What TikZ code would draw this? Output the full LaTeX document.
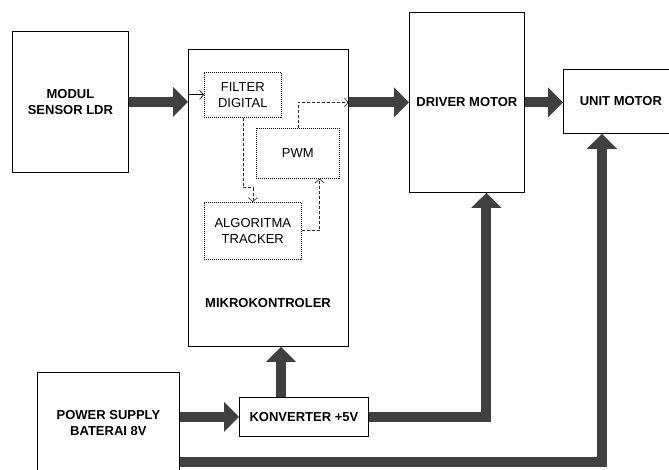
\documentclass[tikz,border=0pt]{standalone}
\usepackage{fontspec}
\setmainfont{Liberation Sans}
\usetikzlibrary{arrows.meta,calc}
\definecolor{bus}{HTML}{404040}
\tikzset{
  blockbox/.style={draw=black, line width=0.8pt, fill=white, inner sep=0pt,
    align=center, font=\fontsize{13}{16}\selectfont\bfseries, anchor=north west},
  subbox/.style={draw=black, line width=0.6pt, dash pattern=on 1pt off 1pt,
    inner sep=0pt, align=center, font=\fontsize{13}{16}\selectfont, anchor=north west},
  bold label/.style={font=\fontsize{13}{16}\selectfont\bfseries, inner sep=0pt},
  power/.style={draw=bus, line width=10pt, line join=miter,
    -{Triangle[length=15pt,width=29pt]}},
  powerline/.style={draw=bus, line width=10pt, line join=miter},
  signal/.style={draw=black, line width=0.6pt, -{Straight Barb[length=4pt,width=9pt]}},
  flow/.style={draw=black!85, line width=0.6pt, dash pattern=on 3pt off 2pt,
    -{Straight Barb[length=4pt,width=9pt]}},
}
\begin{document}
\begin{tikzpicture}[x=1pt,y=-1pt]
\useasboundingbox (0,0) rectangle (669,470);

% main blocks
\node[blockbox, minimum width=116pt, minimum height=141pt] (sensor) at (12,31) {MODUL\\SENSOR LDR};
\node[blockbox, minimum width=160pt, minimum height=297pt] (mcu) at (188,49) {};
\node[bold label] (mcul) at (268,303) {MIKROKONTROLER};
\node[blockbox, minimum width=115pt, minimum height=180pt] (driver) at (409,12) {DRIVER MOTOR};
\node[blockbox, minimum width=115pt, minimum height=64pt] (unit) at (563,69) {UNIT MOTOR};
\node[blockbox, minimum width=142pt, minimum height=101pt] (psu) at (37,372) {POWER SUPPLY\\BATERAI 8V};
\node[blockbox, minimum width=129pt, minimum height=39pt] (konv) at (239,397) {KONVERTER +5V};

% blocks inside the microcontroller
\node[subbox, minimum width=77pt, minimum height=45pt] (filter) at (204,72) {FILTER\\DIGITAL};
\node[subbox, minimum width=83pt, minimum height=50pt] (pwm) at (256,128) {PWM};
\node[subbox, minimum width=97pt, minimum height=57pt] (algo) at (204,202) {ALGORITMA\\TRACKER};

% internal signal path
\draw[signal] (mcu.west |- filter.west) -- (filter.west);
\draw[flow] (filter.south) -- ++(0,70) -| (algo.north);
\draw[flow] (algo.east) -| ($(pwm.south east)+(-20,0)$);
\draw[flow] (pwm.north) |- (mcu.east |- driver.west);

% signal and power buses
\draw[power] (sensor.east) -- (mcu.west |- sensor.east);
\draw[power] (mcu.east |- driver.west) -- (driver.west);
\draw[power] (driver.east) -- (unit.west |- driver.east);
\draw[power] (psu.east |- konv.west) -- (konv.west);
\draw[power] ($(konv.north west)+(42,0)$) -- ($(mcu.south west)+(93,0)$);
\draw[power] (konv.east) -| ($(driver.south)+(19.5,0)$);
\draw[power] ($(psu.south east)+(0,-12)$) -| ($(unit.south)+(-19,0)$);
\end{tikzpicture}
\end{document}
